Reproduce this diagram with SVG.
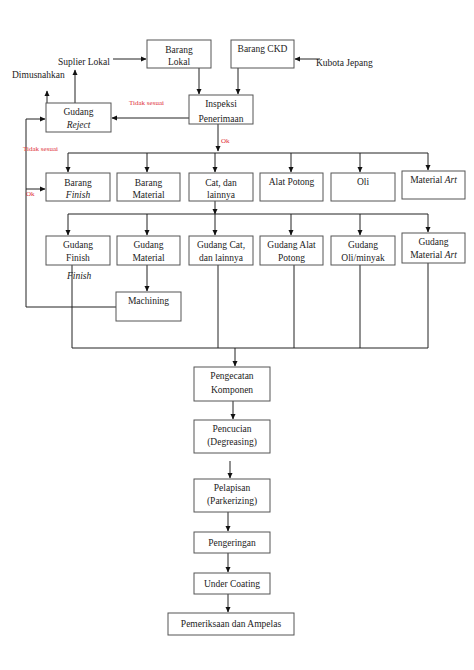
<svg xmlns="http://www.w3.org/2000/svg" width="474" height="670" viewBox="0 0 474 670">
<defs>
<marker id="ah" markerWidth="6" markerHeight="6" refX="5" refY="3" orient="auto" markerUnits="userSpaceOnUse">
<path d="M0,0.5 L5.5,3 L0,5.5 z" fill="#111"/>
</marker>
<style>
rect{fill:#fff;stroke:#555;stroke-width:1}
text{font-family:"Liberation Serif","Times New Roman",serif;font-size:9.5px;fill:#222}
.c{text-anchor:middle}
.r{fill:#e0303a;font-size:7px}
.l{fill:none;stroke:#222;stroke-width:1}
.a{fill:none;stroke:#222;stroke-width:1;marker-end:url(#ah)}
</style>
</defs>
<rect x="0" y="0" width="474" height="670" style="fill:#fff;stroke:none"/>
<g id="connectors">
<path class="a" d="M113,59 H146"/>
<path class="a" d="M320,59 H295"/>
<path class="a" d="M199,68 V94"/>
<path class="a" d="M238,68 V94"/>
<path class="a" d="M189,118 H112"/>
<path class="a" d="M75,103 V70"/>
<path class="a" d="M47,103 V91"/>
<path class="a" d="M218,124 V151"/>
<path class="l" d="M68,153 H428"/>
<path class="a" d="M68,153 V172"/>
<path class="a" d="M147,153 V172"/>
<path class="a" d="M215,153 V172"/>
<path class="a" d="M291,153 V172"/>
<path class="a" d="M360,153 V172"/>
<path class="a" d="M428,153 V170"/>
<path class="a" d="M215,201 V214"/>
<path class="l" d="M68,214 H428"/>
<path class="a" d="M68,214 V235"/>
<path class="a" d="M147,214 V235"/>
<path class="a" d="M215,214 V235"/>
<path class="a" d="M291,214 V235"/>
<path class="a" d="M360,214 V235"/>
<path class="a" d="M428,214 V232"/>
<path class="a" d="M147,265 V291"/>
<path class="l" d="M116,307 H26 V119"/>
<path class="a" d="M26,119 H45"/>
<path class="a" d="M26,189 H45"/>
<path class="l" d="M72,265 V348 H428"/>
<path class="l" d="M218,265 V348"/>
<path class="l" d="M294,265 V348"/>
<path class="l" d="M360,265 V348"/>
<path class="l" d="M428,263 V348"/>
<path class="a" d="M235,348 V366"/>
<path class="a" d="M233,401 V419"/>
<path class="a" d="M230,461 V478"/>
<path class="a" d="M228,512 V531"/>
<path class="a" d="M228,553 V572"/>
<path class="a" d="M228,594 V612"/>
</g>
<g id="labels">
<text x="58" y="65">Suplier Lokal</text>
<text x="316" y="66">Kubota Jepang</text>
<text x="12" y="78">Dimusnahkan</text>
<text class="r" x="129" y="105">Tidak sesuai</text>
<text class="r" x="221" y="143">Ok</text>
<text class="r" x="23" y="151">Tidak sesuai</text>
<text class="r" x="26" y="196">Ok</text>
<text x="67" y="279" font-style="italic">Finish</text>
</g>
<g id="barang-lokal"><rect x="147" y="40" width="64" height="28"/><text class="c" x="179" y="53">Barang</text><text class="c" x="179" y="65">Lokal</text></g>
<g id="barang-ckd"><rect x="231" y="40" width="63" height="28"/><text class="c" x="262.500" y="52">Barang CKD</text></g>
<g id="inspeksi"><rect x="189" y="95" width="64" height="29"/><text class="c" x="221" y="107">Inspeksi</text><text class="c" x="221" y="122">Penerimaan</text></g>
<g id="gudang-reject"><rect x="46" y="103" width="65" height="29"/><text class="c" x="78.500" y="115">Gudang</text><text class="c" x="78.500" y="128" font-style="italic">Reject</text></g>
<g id="barang-finish"><rect x="46" y="173" width="64" height="28"/><text class="c" x="78" y="186">Barang</text><text class="c" x="78" y="198" font-style="italic">Finish</text></g>
<g id="barang-material"><rect x="117" y="173" width="63" height="28"/><text class="c" x="148.500" y="186">Barang</text><text class="c" x="148.500" y="198">Material</text></g>
<g id="cat"><rect x="189" y="173" width="64" height="28"/><text class="c" x="221" y="186">Cat, dan</text><text class="c" x="221" y="198">lainnya</text></g>
<g id="alat-potong"><rect x="260" y="173" width="63" height="28"/><text class="c" x="291.500" y="185">Alat Potong</text></g>
<g id="oli"><rect x="331" y="173" width="64" height="28"/><text class="c" x="363" y="185">Oli</text></g>
<g id="material-art"><rect x="402" y="171" width="63" height="28"/><text class="c" x="433.500" y="183">Material <tspan font-style="italic">Art</tspan></text></g>
<g id="gudang-finish"><rect x="46" y="236" width="64" height="29"/><text class="c" x="78" y="248">Gudang</text><text class="c" x="78" y="261">Finish</text></g>
<g id="gudang-material"><rect x="117" y="236" width="63" height="29"/><text class="c" x="148.500" y="248">Gudang</text><text class="c" x="148.500" y="261">Material</text></g>
<g id="gudang-cat"><rect x="189" y="236" width="64" height="29"/><text class="c" x="221" y="248">Gudang Cat,</text><text class="c" x="221" y="261">dan lainnya</text></g>
<g id="gudang-alat"><rect x="260" y="236" width="63" height="29"/><text class="c" x="291.500" y="248">Gudang Alat</text><text class="c" x="291.500" y="261">Potong</text></g>
<g id="gudang-oli"><rect x="331" y="236" width="64" height="29"/><text class="c" x="363" y="248">Gudang</text><text class="c" x="363" y="261">Oli/minyak</text></g>
<g id="gudang-art"><rect x="402" y="233" width="63" height="30"/><text class="c" x="433.500" y="245">Gudang</text><text class="c" x="433.500" y="258">Material <tspan font-style="italic">Art</tspan></text></g>
<g id="machining"><rect x="116" y="292" width="65" height="29"/><text class="c" x="148.500" y="304">Machining</text></g>
<g id="pengecatan"><rect x="194" y="367" width="76" height="34"/><text class="c" x="232" y="379">Pengecatan</text><text class="c" x="232" y="393">Komponen</text></g>
<g id="pencucian"><rect x="194" y="420" width="76" height="33"/><text class="c" x="232" y="432">Pencucian</text><text class="c" x="232" y="445">(Degreasing)</text></g>
<g id="pelapisan"><rect x="194" y="479" width="76" height="33"/><text class="c" x="232" y="491">Pelapisan</text><text class="c" x="232" y="504">(Parkerizing)</text></g>
<g id="pengeringan"><rect x="194" y="532" width="76" height="21"/><text class="c" x="232" y="546">Pengeringan</text></g>
<g id="under-coating"><rect x="194" y="573" width="76" height="21"/><text class="c" x="232" y="587">Under Coating</text></g>
<g id="pemeriksaan"><rect x="168" y="613" width="126" height="22"/><text class="c" x="231" y="627">Pemeriksaan dan Ampelas</text></g>
</svg>
